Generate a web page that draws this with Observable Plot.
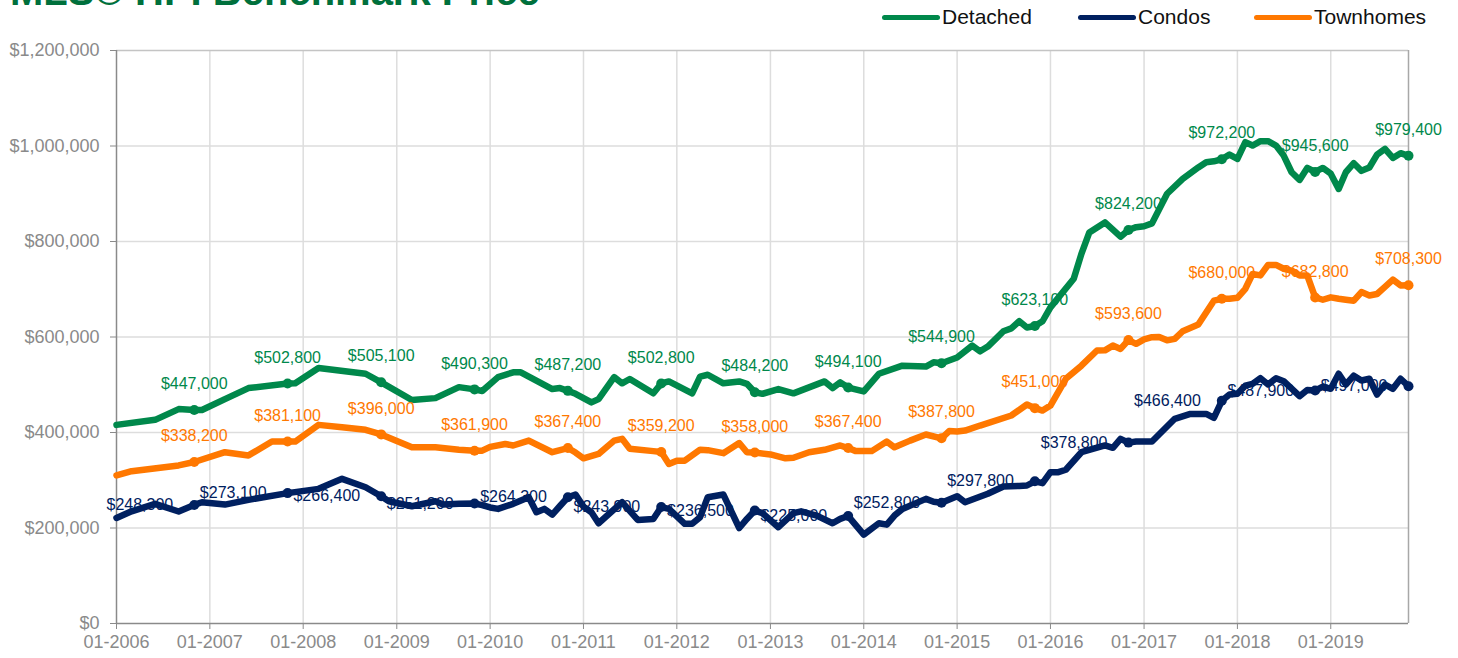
<!DOCTYPE html>
<html>
<head>
<meta charset="utf-8">
<script src="https://cdn.jsdelivr.net/npm/d3@7"></script>
<script src="https://cdn.jsdelivr.net/npm/@observablehq/plot@0.6"></script>
<style>
  html, body { margin: 0; padding: 0; background: #fff; overflow: hidden; }
  #wrap { position: relative; width: 1458px; height: 658px; font-family: "Liberation Sans", Arial, sans-serif; }
  #title { position: absolute; left: 10px; top: -29px; font-size: 40px; line-height: 40px; font-weight: bold; color: #00703c; white-space: nowrap; }
  .leg { position: absolute; top: 4px; height: 26px; display: flex; align-items: center; font-size: 21px; color: #111; white-space: nowrap; }
  .sw { display: inline-block; width: 58px; height: 5px; border-radius: 3px; margin-right: 2px; }
</style>
</head>
<body>
<div id="wrap">
  <div id="title">MLS® HPI Benchmark Price</div>
</div>
<script>
// ---- Data ----
const seriesNames = ["Detached", "Condos", "Townhomes"];
const seriesColors = ["#00884b", "#002060", "#ff7800"];

const detachedDates = ["2006-01","2006-06","2006-09","2006-11","2006-12","2007-03","2007-06","2007-11","2007-12","2008-03","2008-09","2008-11","2009-03","2009-06","2009-09","2009-11","2009-12","2010-02","2010-04","2010-05","2010-09","2010-10","2010-11","2010-12","2011-02","2011-03","2011-05","2011-06","2011-07","2011-10","2011-11","2011-12","2012-03","2012-04","2012-05","2012-07","2012-09","2012-10","2012-11","2012-12","2013-02","2013-04","2013-08","2013-09","2013-10","2013-11","2014-01","2014-03","2014-06","2014-09","2014-10","2014-11","2015-01","2015-03","2015-04","2015-05","2015-06","2015-07","2015-08","2015-09","2015-10","2015-11","2015-12","2016-01","2016-04","2016-05","2016-06","2016-08","2016-10","2016-11","2016-12","2017-01","2017-02","2017-04","2017-06","2017-08","2017-09","2017-10","2017-11","2017-12","2018-01","2018-02","2018-03","2018-04","2018-05","2018-06","2018-07","2018-08","2018-09","2018-10","2018-11","2018-12","2019-01","2019-02","2019-03","2019-04","2019-05","2019-06","2019-07","2019-08","2019-09","2019-10","2019-11"];
const detachedValues = [416000,426500,449000,447000,447000,470000,493000,502800,503000,535000,523000,505100,468000,472000,495000,490300,487000,516000,526000,526000,491000,493000,487200,481000,463000,470000,516000,503000,512000,482000,502800,507000,482000,517000,521000,503000,507000,502000,484200,481000,491000,482000,507000,493000,505000,494100,486000,523000,540000,538000,547000,544900,557000,582000,570000,580000,596000,612000,618000,633000,620000,623100,633000,662000,722000,774000,819000,840000,810000,824200,830000,832000,838000,900000,931000,955000,966000,968000,972200,982000,973000,1008000,1001000,1010000,1010000,1001000,980000,945000,929000,954000,945600,954000,942000,910000,945000,964000,948000,955000,982000,994000,975000,985000,979400];

const condoDates = ["2006-01","2006-03","2006-06","2006-09","2006-11","2006-12","2007-03","2007-06","2007-11","2008-03","2008-06","2008-09","2008-11","2008-12","2009-03","2009-06","2009-07","2009-09","2009-11","2009-12","2010-01","2010-02","2010-04","2010-06","2010-07","2010-08","2010-09","2010-10","2010-11","2010-12","2011-01","2011-02","2011-03","2011-06","2011-08","2011-10","2011-11","2011-12","2012-02","2012-03","2012-04","2012-05","2012-07","2012-09","2012-10","2012-11","2012-12","2013-02","2013-04","2013-05","2013-07","2013-09","2013-10","2013-11","2014-01","2014-03","2014-04","2014-05","2014-06","2014-09","2014-10","2014-11","2015-01","2015-02","2015-05","2015-07","2015-09","2015-10","2015-11","2015-12","2016-01","2016-02","2016-03","2016-05","2016-08","2016-09","2016-10","2016-11","2016-12","2017-02","2017-05","2017-07","2017-09","2017-10","2017-11","2017-12","2018-01","2018-02","2018-03","2018-04","2018-05","2018-06","2018-07","2018-08","2018-09","2018-10","2018-11","2018-12","2019-01","2019-02","2019-03","2019-04","2019-05","2019-06","2019-07","2019-08","2019-09","2019-10","2019-11"];
const condoValues = [221000,235000,250600,234500,248300,254000,249000,259000,273100,282000,303000,285400,266400,256000,245600,256000,249000,250600,251200,248000,243000,240000,250600,264500,233000,240000,228000,246000,264300,270000,245000,233000,210000,254000,217000,219000,243900,240000,208800,209000,222600,264500,270000,200000,219000,236500,231000,201700,231000,235000,226000,210000,219000,225000,186000,210000,207000,226000,240000,261000,255000,252800,266600,254000,271600,287000,288000,289000,297800,294000,317000,317000,322000,358700,372800,368000,386800,378800,381000,381000,428700,439000,439000,430800,466400,479600,481000,498000,502000,513700,500500,513700,507400,492000,476000,489000,487900,496000,491500,523000,500500,519000,509000,512500,479600,500500,491500,512500,497000];

const townDates = ["2006-01","2006-03","2006-09","2006-11","2007-03","2007-06","2007-09","2007-11","2007-12","2008-03","2008-06","2008-09","2008-11","2009-03","2009-06","2009-09","2009-11","2009-12","2010-01","2010-03","2010-04","2010-06","2010-09","2010-11","2010-12","2011-01","2011-03","2011-05","2011-06","2011-07","2011-10","2011-11","2011-12","2012-01","2012-02","2012-04","2012-05","2012-07","2012-09","2012-10","2012-11","2013-01","2013-03","2013-04","2013-06","2013-08","2013-10","2013-11","2013-12","2014-02","2014-04","2014-05","2014-07","2014-09","2014-11","2014-12","2015-01","2015-02","2015-04","2015-05","2015-08","2015-10","2015-11","2015-12","2016-01","2016-03","2016-05","2016-07","2016-08","2016-09","2016-10","2016-11","2016-12","2017-01","2017-02","2017-03","2017-04","2017-05","2017-06","2017-08","2017-10","2017-11","2017-12","2018-01","2018-02","2018-03","2018-04","2018-05","2018-06","2018-07","2018-08","2018-09","2018-10","2018-11","2018-12","2019-01","2019-02","2019-03","2019-04","2019-05","2019-06","2019-07","2019-08","2019-09","2019-10","2019-11"];
const townValues = [310000,319000,331000,338200,358700,352000,381000,381100,381000,416000,411000,405600,396000,369000,369000,364000,361900,362000,370000,376000,372800,383000,358700,367400,358000,346000,355000,383000,386800,366000,361000,359200,334000,341000,341000,364000,363000,356700,378000,358700,358000,354000,346000,347000,358700,363700,372800,367400,361000,361000,381000,369000,383000,395800,387800,403000,402000,404000,414600,419500,435600,458600,451000,446000,456500,512500,540000,571700,572000,582000,575000,593600,585700,595000,599600,600000,593000,596000,612000,626000,676000,680000,680000,682000,701000,732000,729000,751000,751000,743000,739000,729000,729000,682800,678000,683000,680000,678000,676000,694000,687000,690000,705000,720000,708000,708300];

// labelled points (every November)
const labelDates = ["2006-11","2007-11","2008-11","2009-11","2010-11","2011-11","2012-11","2013-11","2014-11","2015-11","2016-11","2017-11","2018-11","2019-11"];
const detachedLabels = [447000,502800,505100,490300,487200,502800,484200,494100,544900,623100,824200,972200,945600,979400];
const condoLabels = [248300,273100,266400,251200,264300,243900,236500,225000,252800,297800,378800,466400,487900,497000];
const townLabels = [338200,381100,396000,361900,367400,359200,358000,367400,387800,451000,593600,680000,682800,708300];

// axis ticks
const xTickLabels = ["2006-01","2007-01","2008-01","2009-01","2010-01","2011-01","2012-01","2013-01","2014-01","2015-01","2016-01","2017-01","2018-01","2019-01"];
const yTicks = [0, 200000, 400000, 600000, 800000, 1000000, 1200000];

// ---- Build ----
const parse = d3.utcParse("%Y-%m");
const fmt = d3.format("$,");
const color = Object.fromEntries(seriesNames.map((s, i) => [s, seriesColors[i]]));

function rows(name, dates, values) {
  return dates.map((d, i) => ({series: name, date: parse(d), value: values[i]}));
}
const lineData = [
  ...rows("Detached", detachedDates, detachedValues),
  ...rows("Condos", condoDates, condoValues),
  ...rows("Townhomes", townDates, townValues)
];
const detLab = rows("Detached", labelDates, detachedLabels);
const conLab = rows("Condos", labelDates, condoLabels);
const towLab = rows("Townhomes", labelDates, townLabels);
const allLab = [...detLab, ...conLab, ...towLab];

const xTicks = xTickLabels.map(parse);
const xMin = parse("2006-01"), xMax = parse("2019-11");

const chart = Plot.plot({
  width: 1458,
  height: 658,
  marginLeft: 116,
  marginRight: 50,
  marginTop: 50,
  marginBottom: 35,
  style: {fontFamily: "'Liberation Sans', Arial, sans-serif", fontSize: "18px", color: "#8a8a8a", background: "transparent"},
  x: {type: "utc", domain: [xMin, xMax], ticks: xTicks, tickFormat: d3.utcFormat("%m-%Y"), tickSize: 6, tickPadding: 6, label: null},
  y: {domain: [0, 1200000], ticks: yTicks, tickFormat: fmt, tickSize: 6, tickPadding: 11, label: null},
  marks: [
    Plot.ruleY(yTicks.slice(1, -1), {stroke: "#dddddd", strokeWidth: 1.5}),
    Plot.ruleX(xTicks.slice(1), {stroke: "#dddddd", strokeWidth: 1.5}),
    Plot.ruleY([1200000], {stroke: "#c4c4c4", strokeWidth: 1.5}),
    Plot.ruleX([xMax], {stroke: "#a8a8a8", strokeWidth: 1.5}),
    Plot.ruleX([xMin], {stroke: "#8a8a8a", strokeWidth: 1.5}),
    Plot.ruleY([0], {stroke: "#8a8a8a", strokeWidth: 1.5}),
    Plot.line(lineData, {x: "date", y: "value", z: "series", stroke: d => color[d.series], strokeWidth: 6.5, strokeLinejoin: "round", strokeLinecap: "round"}),
    Plot.dot(allLab, {x: "date", y: "value", r: 5, fill: d => color[d.series], stroke: "none"}),
    Plot.text([...detLab, ...towLab], {x: "date", y: "value", text: d => fmt(d.value), dy: -26, fill: d => color[d.series], fontSize: 16, textAnchor: "middle"}),
    Plot.text(conLab, {x: "date", y: "value", text: d => fmt(d.value), dx: -21, fill: d => color[d.series], fontSize: 16, textAnchor: "end"})
  ]
});

const wrap = document.getElementById("wrap");
wrap.appendChild(chart);
chart.style.position = "absolute";
chart.style.left = "0px";
chart.style.top = "0px";

// legend
const legendLeft = [882, 1078, 1254];
seriesNames.forEach((s, i) => {
  const item = document.createElement("div");
  item.className = "leg";
  item.style.left = legendLeft[i] + "px";
  const sw = document.createElement("span");
  sw.className = "sw";
  sw.style.background = seriesColors[i];
  item.appendChild(sw);
  item.appendChild(document.createTextNode(s));
  wrap.appendChild(item);
});
</script>
</body>
</html>
